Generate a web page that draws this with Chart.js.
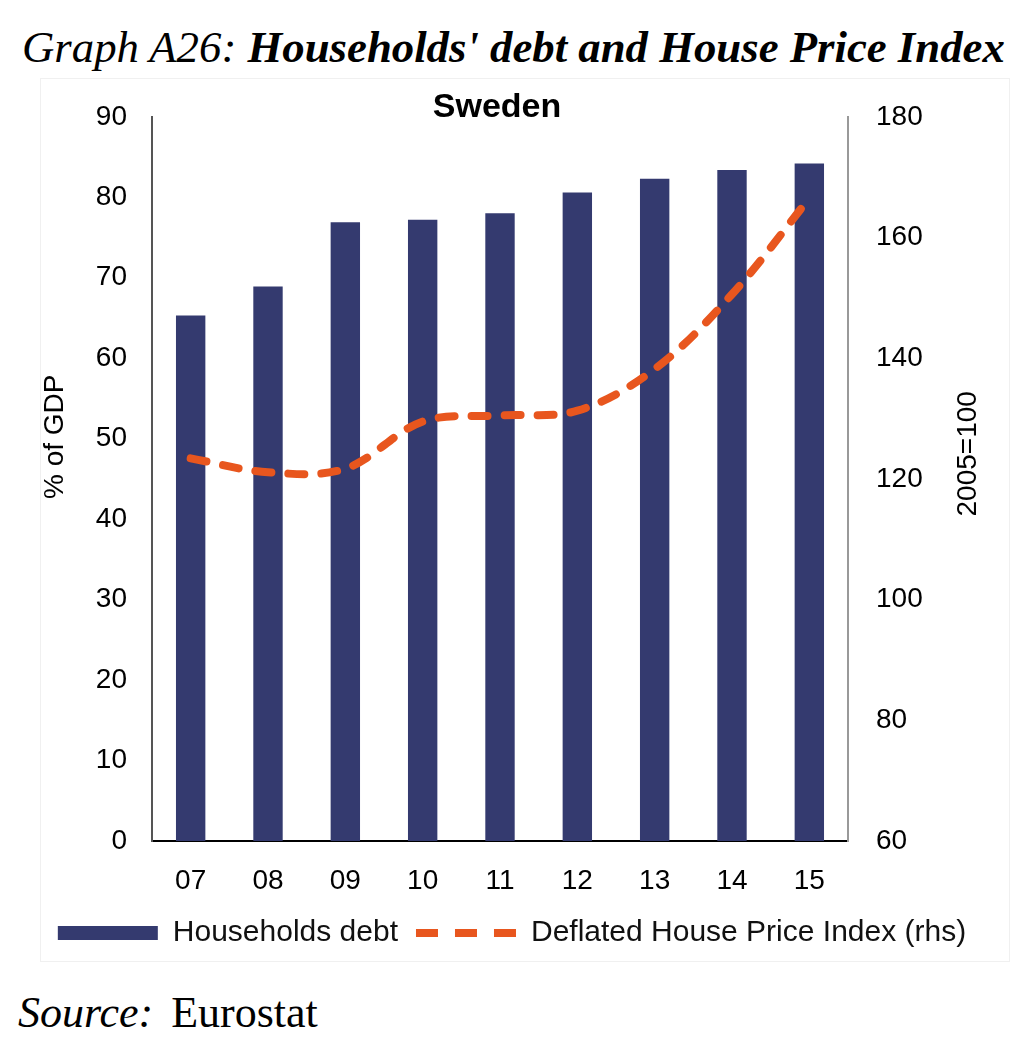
<!DOCTYPE html>
<html>
<head>
<meta charset="utf-8">
<script src="https://cdn.jsdelivr.net/npm/chart.js@4.4.1/dist/chart.umd.min.js"></script>
<style>
  html, body { margin: 0; padding: 0; background: #fff; }
  body { width: 1024px; height: 1052px; position: relative; overflow: hidden; }
  #title {
    position: absolute; left: 22px; top: 25px; white-space: nowrap;
    font-family: "Liberation Serif", "Times New Roman", serif;
    font-size: 44px; line-height: 1; font-style: italic; color: #000;
  }
  #title b { font-weight: bold; }
  #frame {
    position: absolute; left: 40px; top: 78px; width: 970px; height: 884px;
    border: 1px solid #f0f0f0; box-sizing: border-box;
  }
  #wrap { position: absolute; left: 0; top: 72px; width: 1024px; height: 886px; }
  #source {
    position: absolute; left: 18px; top: 991px; white-space: nowrap;
    font-family: "Liberation Serif", "Times New Roman", serif;
    font-size: 44px; line-height: 1; color: #000;
  }
  #source span { margin-left: 18px; }
</style>
</head>
<body>
<div id="title">Graph A26: <b>Households' debt and House Price Index</b></div>
<div id="frame"></div>
<div id="wrap"><canvas id="chart"></canvas></div>
<div id="source"><i>Source:</i><span>Eurostat</span></div>

<script>
// Sweden: households' debt (% of GDP, bars) vs deflated house price index (2005=100, rhs)
const years = ["07", "08", "09", "10", "11", "12", "13", "14", "15"];
const householdsDebt = [65.3, 68.9, 76.9, 77.2, 78.0, 80.6, 82.3, 83.4, 84.2];
const housePriceIndex = [123.4, 121.1, 121.7, 129.5, 130.5, 131.3, 138.2, 150.6, 166.5];
const leftTicks = [0, 10, 20, 30, 40, 50, 60, 70, 80, 90];
const rightTicks = [60, 80, 100, 120, 140, 160, 180];

const SANS = '"Liberation Sans", Arial, sans-serif';
const NAVY = "#343a6f";
const ORANGE = "#e8561e";
const DASH = [16, 17];
const LEGEND_DASH = [22, 17]; // three whole dashes in the 100px key

// fit the serif heading to the width it has in the report
(function fitTitle() {
  const t = document.getElementById("title");
  const w = t.getBoundingClientRect().width;
  t.style.fontSize = (44 * 983 / w).toFixed(2) + "px";
})();

// rotated axis titles and the "Sweden" heading, drawn on the chart canvas
const extraText = {
  id: "extraText",
  afterDraw(chart) {
    const { ctx, chartArea } = chart;
    const put = (text, font, x, y, rot) => {
      ctx.save();
      ctx.fillStyle = "#000";
      ctx.textAlign = "center";
      ctx.textBaseline = "middle";
      ctx.font = font;
      ctx.translate(x, y);
      if (rot) ctx.rotate(rot);
      ctx.fillText(text, 0, 0);
      ctx.restore();
    };
    put("Sweden", "bold 34px " + SANS, (chartArea.left + chartArea.right) / 2 - 3, chartArea.top - 9);
    put("% of GDP", "28px " + SANS, 55, chartArea.top + 320, -Math.PI / 2);
    put("2005=100", "28px " + SANS, 968, chartArea.top + 337, -Math.PI / 2);
  },
};

const tickFont = { family: SANS, size: 28 };

new Chart(document.getElementById("chart"), {
  type: "bar",
  data: {
    labels: years,
    datasets: [
      {
        label: "Households debt",
        data: householdsDebt,
        yAxisID: "y",
        backgroundColor: NAVY,
        borderWidth: 0,
        categoryPercentage: 1,
        barPercentage: 0.38,
        order: 2,
      },
      {
        type: "line",
        label: "Deflated House Price Index (rhs)",
        data: housePriceIndex,
        yAxisID: "y1",
        borderColor: ORANGE,
        backgroundColor: ORANGE,
        borderWidth: 8,
        borderDash: DASH,
        borderCapStyle: "round",
        tension: 0.35,
        pointRadius: 0,
        fill: false,
        order: 1,
      },
    ],
  },
  options: {
    responsive: true,
    maintainAspectRatio: false,
    animation: false,
    layout: { padding: { top: 20, right: 0, bottom: 0, left: 0 } },
    plugins: {
      tooltip: { enabled: false },
      title: { display: false },
      legend: {
        position: "bottom",
        labels: {
          usePointStyle: true,
          pointStyleWidth: 100,
          boxHeight: 14,
          padding: 18,
          color: "#111",
          font: { family: SANS, size: 30 },
          generateLabels(chart) {
            const items = Chart.defaults.plugins.legend.labels.generateLabels(chart);
            items.forEach(it => {
              if (it.datasetIndex === 0) {
                it.pointStyle = "rect";
                it.lineWidth = 0;
              } else {
                it.pointStyle = "line";
                it.lineWidth = 8;
                it.lineDash = LEGEND_DASH;
                it.lineCap = "butt";
              }
            });
            return items.sort((a, b) => a.datasetIndex - b.datasetIndex);
          },
        },
      },
    },
    scales: {
      x: {
        grid: { display: false, drawTicks: false },
        border: { display: true, color: "#000", width: 2 },
        ticks: { color: "#000", font: tickFont, padding: 23, maxRotation: 0 },
        afterFit(scale) { scale.height = 59; },
      },
      y: {
        position: "left",
        min: leftTicks[0],
        max: leftTicks[leftTicks.length - 1],
        grid: { display: false, drawTicks: false },
        border: { display: true, color: "#555", width: 2 },
        ticks: { stepSize: leftTicks[1] - leftTicks[0], color: "#000", font: tickFont, padding: 25 },
        afterFit(scale) { scale.width = 152; },
      },
      y1: {
        position: "right",
        min: rightTicks[0],
        max: rightTicks[rightTicks.length - 1],
        grid: { display: false, drawTicks: false, drawOnChartArea: false },
        border: { display: true, color: "#999", width: 2 },
        ticks: { stepSize: rightTicks[1] - rightTicks[0], color: "#000", font: tickFont, padding: 28 },
        afterFit(scale) { scale.width = 176; },
      },
    },
  },
  plugins: [extraText],
});
</script>
</body>
</html>
